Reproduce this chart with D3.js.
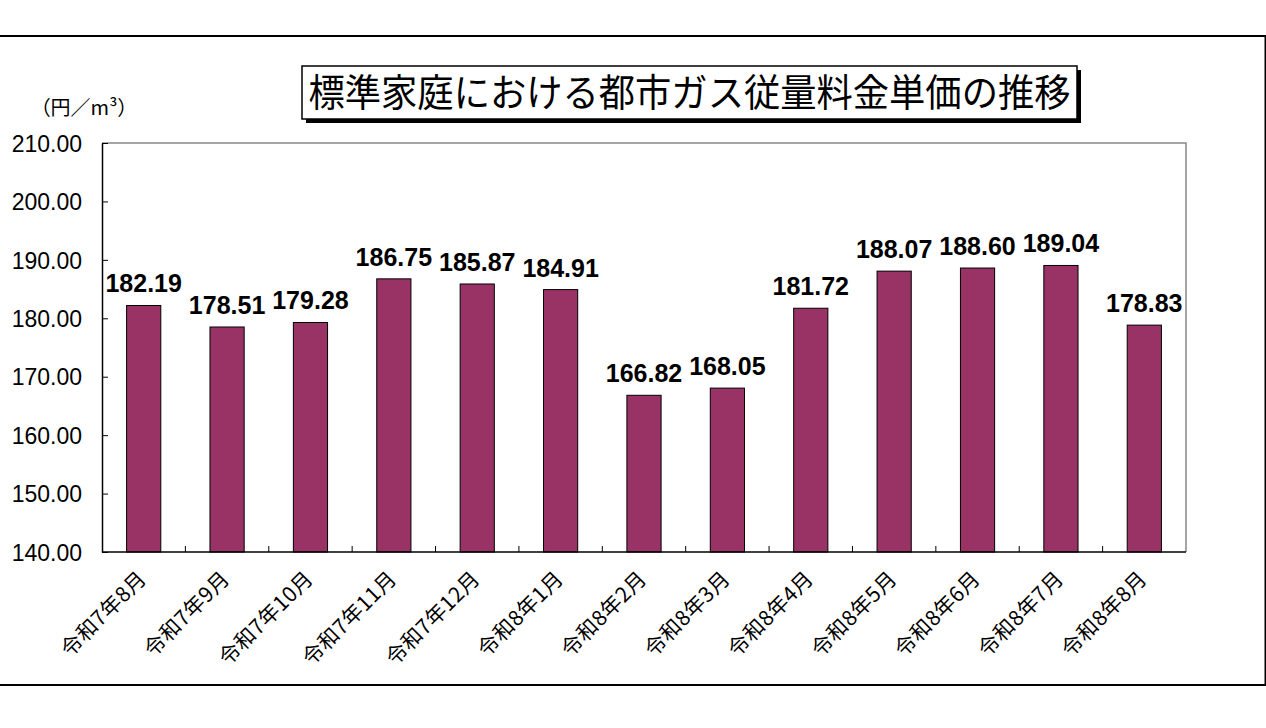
<!DOCTYPE html>
<html>
<head>
<meta charset="utf-8">
<script src="https://cdn.jsdelivr.net/npm/d3@7"></script>
<style>
  body { margin: 0; background: #fff; }
</style>
</head>
<body>
<div id="chart-container"></div>
<script>
const months = ['令和7年8月', '令和7年9月', '令和7年10月', '令和7年11月', '令和7年12月', '令和8年1月',
  '令和8年2月', '令和8年3月', '令和8年4月', '令和8年5月', '令和8年6月', '令和8年7月', '令和8年8月']
const prices = [182.19, 178.51, 179.28, 186.75, 185.87, 184.91, 166.82, 168.05, 181.72, 188.07, 188.60, 189.04, 178.83]
const yTicks = [140, 150, 160, 170, 180, 190, 200, 210]
const title = '標準家庭における都市ガス従量料金単価の推移'
const unit = '（円／m³）'

const width = 1266
const height = 728
const marginTop = 143
const marginRight = 80
const marginBottom = 176
const marginLeft = 102
const jp = '"Noto Sans CJK JP", sans-serif'
const num = '"Liberation Sans", Arial, sans-serif'

const data = months.map((m, i) => ({ month: m, price: prices[i] }))

const svg = d3.select('#chart-container')
  .append('svg')
  .attr('width', width)
  .attr('height', height)

// outer frame
svg.append('rect')
  .attr('x', -5)
  .attr('y', 36)
  .attr('width', 1270.5)
  .attr('height', 649)
  .attr('fill', 'none')
  .attr('stroke', '#000')
  .attr('stroke-width', 2)

const xScale = d3.scaleBand()
  .domain(months)
  .range([marginLeft, width - marginRight])

const yScale = d3.scaleLinear()
  .domain([140, 210])
  .range([height - marginBottom, marginTop])

// plot area border (top/right grey)
svg.append('path')
  .attr('d', `M${marginLeft},${marginTop}H${width - marginRight}V${height - marginBottom}`)
  .attr('fill', 'none')
  .attr('stroke', '#888')
  .attr('stroke-width', 1.5)

// bars
const barW = xScale.bandwidth() * 0.41
svg.selectAll('rect.bar')
  .data(data)
  .enter()
  .append('rect')
  .attr('class', 'bar')
  .attr('x', d => xScale(d.month) + xScale.bandwidth() / 2 - barW / 2)
  .attr('y', d => yScale(d.price))
  .attr('width', barW)
  .attr('height', d => yScale(140) - yScale(d.price))
  .attr('fill', '#993366')
  .attr('stroke', '#000')
  .attr('stroke-width', 1)

// value labels
svg.selectAll('text.val')
  .data(data)
  .enter()
  .append('text')
  .attr('class', 'val')
  .attr('x', d => xScale(d.month) + xScale.bandwidth() / 2)
  .attr('y', d => yScale(d.price) - 13)
  .attr('text-anchor', 'middle')
  .style('font-family', num)
  .style('font-weight', 'bold')
  .style('font-size', '25px')
  .text(d => d.price.toFixed(2))

// y axis
const yAxis = d3.axisLeft(yScale)
  .tickValues(yTicks)
  .tickSizeInner(-6)
  .tickSizeOuter(0)
  .tickPadding(20)
  .tickFormat(d => d.toFixed(2))

const gy = svg.append('g')
  .attr('transform', 'translate(' + marginLeft + ',0)')
  .call(yAxis)
gy.select('.domain').attr('stroke', '#000').attr('stroke-width', 1.5)
gy.selectAll('.tick line').attr('stroke', '#000')
gy.selectAll('.tick text')
  .style('font-family', num)
  .style('font-size', '23px')
  .attr('fill', '#000')
  .attr('dy', '0.36em')

// x axis: ticks at category boundaries, pointing up
const boundaries = d3.range(1, months.length).map(i => marginLeft + xScale.step() * i)
svg.append('line')
  .attr('x1', marginLeft)
  .attr('x2', width - marginRight)
  .attr('y1', height - marginBottom)
  .attr('y2', height - marginBottom)
  .attr('stroke', '#000')
  .attr('stroke-width', 1.5)
svg.selectAll('line.xtick')
  .data(boundaries)
  .enter()
  .append('line')
  .attr('class', 'xtick')
  .attr('x1', d => d)
  .attr('x2', d => d)
  .attr('y1', height - marginBottom)
  .attr('y2', height - marginBottom - 6)
  .attr('stroke', '#000')

svg.selectAll('text.xlab')
  .data(months)
  .enter()
  .append('text')
  .attr('class', 'xlab')
  .attr('transform', d => {
    const cx = xScale(d) + xScale.bandwidth() / 2 + 4
    const cy = height - marginBottom + 28
    return 'translate(' + cx + ',' + cy + ') rotate(-45)'
  })
  .attr('text-anchor', 'end')
  .style('font-family', jp)
  .style('font-size', '21px')
  .style('letter-spacing', '0.5px')
  .text(d => d)

// unit label
svg.append('text')
  .attr('x', 84)
  .attr('y', 115)
  .attr('text-anchor', 'middle')
  .style('font-family', jp)
  .style('font-size', '20px')
  .text(unit)

// title box with shadow
const tb = { x: 302, y: 66, w: 775, h: 53 }
svg.append('rect')
  .attr('x', tb.x + 4)
  .attr('y', tb.y + 4)
  .attr('width', tb.w)
  .attr('height', tb.h)
  .attr('fill', '#000')
svg.append('rect')
  .attr('x', tb.x)
  .attr('y', tb.y)
  .attr('width', tb.w)
  .attr('height', tb.h)
  .attr('fill', '#fff')
  .attr('stroke', '#000')
  .attr('stroke-width', 1.5)
svg.append('text')
  .attr('x', tb.x + tb.w / 2)
  .attr('y', tb.y + tb.h / 2)
  .attr('dy', '0.36em')
  .attr('text-anchor', 'middle')
  .attr('textLength', 762)
  .attr('lengthAdjust', 'spacingAndGlyphs')
  .style('font-family', jp)
  .style('font-size', '38px')
  .text(title)
</script>
</body>
</html>
